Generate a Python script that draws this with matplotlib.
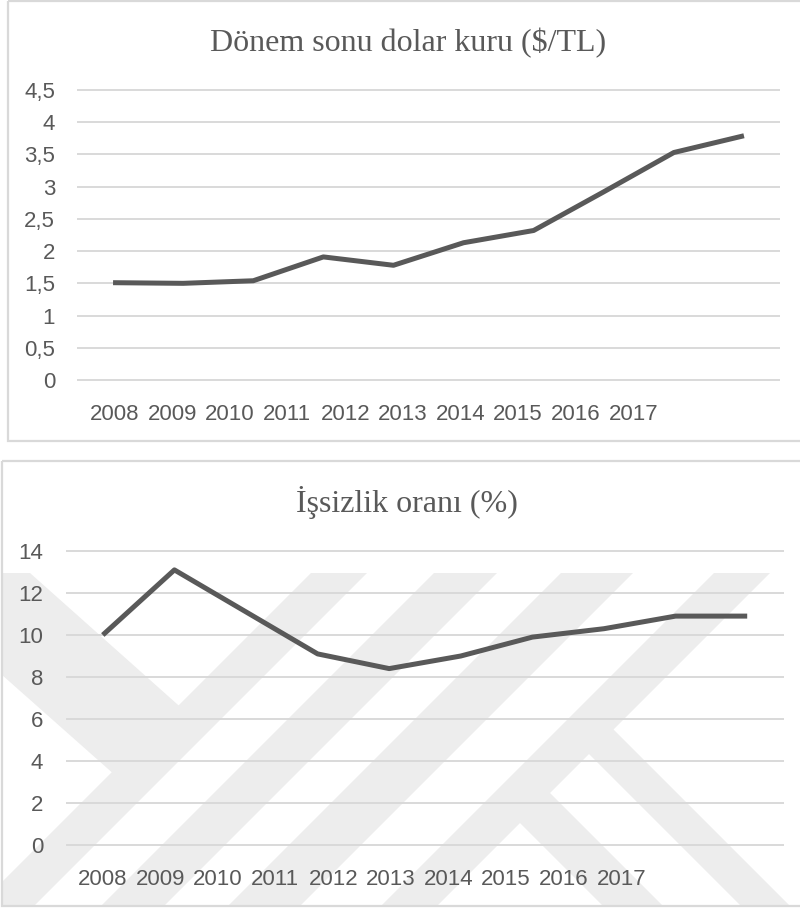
import matplotlib
matplotlib.use("Agg")
import matplotlib.pyplot as plt
from matplotlib.patches import Polygon, Rectangle

# ---- data ----
years = ["2008", "2009", "2010", "2011", "2012", "2013", "2014", "2015", "2016", "2017"]
dolar_kuru = [1.51, 1.50, 1.54, 1.91, 1.78, 2.13, 2.32, 2.92, 3.53, 3.79]
issizlik = [10.0, 13.1, 11.1, 9.1, 8.4, 9.0, 9.9, 10.3, 10.9, 10.9]
dolar_ticks = [0, 0.5, 1, 1.5, 2, 2.5, 3, 3.5, 4, 4.5]
issizlik_ticks = [0, 2, 4, 6, 8, 10, 12, 14]
title_top = "Dönem sonu dolar kuru ($/TL)"
title_bottom = "İşsizlik oranı (%)"

W, H = 800, 909
TEXT = "#595959"
LINE = "#595959"
GRID = "#d9d9d9"
BORDER = "#d9d9d9"
MARK = "#ededed"
TICK_FONT = "Liberation Sans"
TICK_SIZE = 16
TITLE_FONT = "Liberation Serif"

fig = plt.figure(figsize=(W / 100, H / 100), dpi=100)
fig.patch.set_facecolor("white")

# background layer in pixel coordinates (y downwards)
bg = fig.add_axes([0, 0, 1, 1], zorder=0)
bg.set_xlim(0, W)
bg.set_ylim(H, 0)
bg.axis("off")

# faint page watermark behind the lower panel
clip = Rectangle((2, 461), 798, 445, transform=bg.transData)
shapes = [
    [(-113, 573), (30, 573), (186, 712), (116, 776)],
    [(311, 573), (367, 573), (27, 913), (-29, 913)],
    [(434, 573), (497, 573), (157, 913), (94, 913)],
    [(561, 573), (633, 573), (293, 913), (221, 913)],
    [(714, 573), (770, 573), (430, 913), (374, 913)],
    [(592, 708), (804, 920), (755, 920), (567, 732)],
    [(530, 773), (677, 920), (617, 920), (500, 803)],
]
for pts in shapes:
    p = Polygon(pts, closed=True, facecolor=MARK, edgecolor="none", zorder=1)
    bg.add_patch(p)
    p.set_clip_path(clip)

# panel frames
bg.add_patch(Rectangle((8, 1), 810, 440, fill=False, ec=BORDER, lw=1.6, zorder=2))
bg.add_patch(Rectangle((2, 461), 820, 445, fill=False, ec=BORDER, lw=1.6, zorder=2))


def px_axes(left, right, top, bottom):
    return fig.add_axes([left / W, 1 - bottom / H, (right - left) / W, (bottom - top) / H], zorder=3)


def panel(ax, values, ticks, pad_px):
    x = list(range(len(values)))
    ax.patch.set_alpha(0)
    ax.set_xlim(-0.5, len(values) - 0.5)
    ax.set_ylim(ticks[0], ticks[-1])
    ax.set_yticks(ticks)
    ax.set_yticklabels([f"{t:g}".replace(".", ",") for t in ticks],
                       fontsize=TICK_SIZE, color=TEXT, family=TICK_FONT)
    ax.set_xticks([])
    ax.tick_params(axis="y", length=0, pad=pad_px * 0.72)
    for s in ax.spines.values():
        s.set_visible(False)
    ax.yaxis.grid(True, color=GRID, lw=1.4)
    ax.set_axisbelow(True)
    for gl in ax.get_ygridlines():
        gl.set_clip_on(False)
    ax.plot(x, values, color=LINE, lw=3.6, solid_capstyle="butt",
            solid_joinstyle="round", clip_on=False, zorder=4)


def year_labels(x0, baseline, pitch):
    for i, yr in enumerate(years):
        fig.text((x0 + i * pitch) / W, 1 - baseline / H, yr, ha="left", va="baseline",
                 fontsize=TICK_SIZE, color=TEXT, family=TICK_FONT)


# upper panel
ax1 = px_axes(78, 779, 90, 380)
panel(ax1, dolar_kuru, dolar_ticks, 23)
fig.text(408 / W, 1 - 51 / H, title_top, ha="center", va="baseline",
         fontsize=23, color=TEXT, family=TITLE_FONT)
year_labels(90, 420, 57.6)

# lower panel
ax2 = px_axes(67, 783, 551, 845)
panel(ax2, issizlik, issizlik_ticks, 24)
fig.text(407 / W, 1 - 512 / H, title_bottom, ha="center", va="baseline",
         fontsize=23, color=TEXT, family=TITLE_FONT)
year_labels(78, 885, 57.6)

fig.savefig("out.png", dpi=100, facecolor="white")
